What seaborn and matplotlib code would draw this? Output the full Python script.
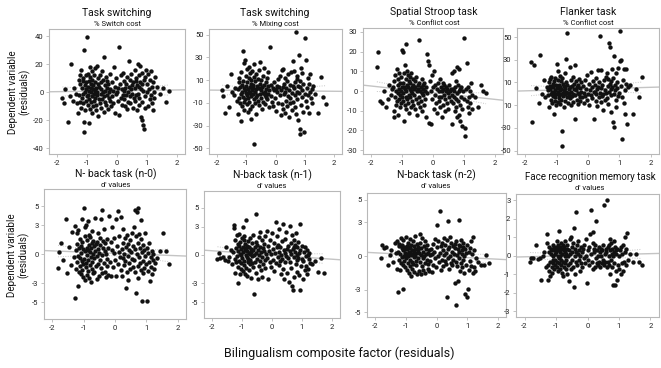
import numpy as np
import pandas as pd
import matplotlib
matplotlib.use("Agg")
import matplotlib.pyplot as plt
import seaborn as sns

# ==================================================
# DATA (same participants on x)
# ==================================================

bilingualism = [
    -1.82, -1.78, -1.72, -1.65, -1.58, -1.52, -1.47, -1.42, -1.37, -1.32,
    -1.29, -1.28, -1.26, -1.25, -1.23, -1.22, -1.21, -1.19, -1.18, -1.17,
    -1.15, -1.14, -1.13, -1.12, -1.11, -1.10, -1.09, -1.08, -1.07, -1.06,
    -1.05, -1.04, -1.03, -1.02, -1.01,
    -0.99, -0.98, -0.97, -0.96, -0.96, -0.95, -0.94, -0.93, -0.92, -0.91,
    -0.90, -0.89, -0.88, -0.87, -0.86, -0.86, -0.85, -0.84, -0.83, -0.82,
    -0.81, -0.80, -0.79, -0.78, -0.77, -0.76, -0.75, -0.74, -0.73, -0.72,
    -0.71, -0.70, -0.69, -0.68, -0.67, -0.66, -0.65, -0.64, -0.62, -0.61,
    -0.59, -0.58, -0.57, -0.55, -0.54, -0.53, -0.52, -0.50, -0.49, -0.48,
    -0.47, -0.45, -0.44, -0.43, -0.41, -0.40, -0.39, -0.37, -0.36, -0.35,
    -0.33, -0.32, -0.31, -0.29, -0.28, -0.27, -0.25, -0.24, -0.22, -0.21,
    -0.18, -0.16, -0.14, -0.12, -0.10, -0.08, -0.06, -0.04, -0.02, 0.00,
    0.02, 0.04, 0.06, 0.08, 0.10, 0.12, 0.14, 0.16, 0.18, 0.19,
    0.21, 0.22, 0.24, 0.25, 0.27, 0.28, 0.30, 0.31, 0.33, 0.34,
    0.36, 0.37, 0.39, 0.40, 0.42, 0.43, 0.45, 0.46, 0.48, 0.49,
    0.51, 0.53, 0.55, 0.57, 0.59,
    0.60, 0.61, 0.63, 0.64, 0.65, 0.67, 0.68, 0.69, 0.70, 0.72,
    0.73, 0.74, 0.75, 0.77, 0.78, 0.79, 0.80, 0.82, 0.83, 0.84,
    0.85, 0.87, 0.88, 0.89, 0.90, 0.92, 0.93, 0.95, 0.97, 0.99,
    1.01, 1.03, 1.05, 1.07, 1.09, 1.10, 1.12, 1.14, 1.16, 1.18,
    1.19, 1.21, 1.23, 1.25, 1.28,
    1.35, 1.45, 1.55, 1.63, 1.72,
]

switch_cost = [
    -4, -8, 2, -21, -3, 20, -6, 3, -1, -8,
    -15, 9, -2, 6, 12, -7, 16, -11, 3, -4, 8, -1, 10, -8, 30, -21, -28, 5, 0, -13, 12, 2, -6, 7, -3,
    39, -9, 4, 13, -2, -22, 8, 1, -5, 11, 18, -12, 3, -7, 6, 0, -3, 15, -15, 9,
    2, -10, 5, -1, 12, -6, 7, -4, 17, 1, -9, 3, -13, 19, 0, -2, 6, -17, 10, -5,
    4, -8, 12, -1, 7, -11, 2, 15, -5, 0, 9, -3, 25, -14, 5, -7, 1, 11, -9, 3,
    -2, 8, -12, 6, -4, 0, 13, -6, 2, -10,
    7, -3, 1, -8, 18, -15, 4, -1, 10, 0, -6, 3, 32, -16, 6, -4, 12, -9, 2, -2,
    14, -5, 1, 8, -10, 3, -2, 6, -12, 11, 0, -7, 4, 22, -3, 9, -8, 2, 13, -1, 5, -11, 7, -4, 16,
    3, -6, 10, -2, 8, -13, 5, 20, -1, 12, -9, 4, -4, 7, 19, -18, 2, -7, 14, -20,
    6, -23, 1, -26, 9, -3, 11, -11, 16, 0,
    6, -10, 13, 2, -5, 9, -2, 15, -8, 4, -13, 7, 0, -4, 11,
    4, -1, 3, -7, 1,
]

mixing_cost = [
    1, -4, -19, 5, -14, 15, 0, -3, 3, -8,
    -20, 2, 8, -6, 12, -10, 4, -2, 17, -26, 6, -13, 0, 36, -5, 9, -16, 3, 25, -9, 28, 1, -7, 14, -1,
    5, -11, 20, -3, 8, -18, 2, -6, 12, 0, 22, -9, 4, -15, 16, -1, 7, -24, 10, -4,
    18, 1, -13, 6, -2, 3, -46, 13, -7, 24, 0, -10, 9, -5, 2, 15, -20, 5, -3, 11,
    -8, 19, 3, -12, 7, -2, 26, -6, 1, 10, -15, 4, -1, 14, -9, 6, 21, -3, 0, -11,
    8, 2, -5, 12, -7, 5, -2, 17, -14, 1,
    39, -4, 6, -9, 3, -13, 1, 8, -6, 2, -17, 5, 0, 11, -10, 4, -3, 14, -21, 1,
    19, -11, 4, -15, 20, -2, 7, -19, 0, 12, -8, 3, -13, 9, -4, 15, -22, 1, -6, 6, -10, 17, -1, -16, 5,
    27, -9, 3, 18, -14, 8, -3, 52, -20, 11, 0, -7, 14, -25, 5, -1, 32, -33, 9, -37,
    4, -12, 21, -5, 1, 16, -18, 7, -36, -2,
    47, -8, 28, 3, -14, 12, -3, 7, -19, 0, 15, -6, 2, -10, 5,
    -2, -19, 13, -5, -11,
]

stroop_cost = [
    12, 20, -5, -6, 0, -8, -4, 3, -2, 1,
    2, -10, -13, 5, -3, 8, -7, 0, 11, -5, 3, -12, 6, -1, 9, -4, 1, -8, 4, -2, 7, -6, 0, 2, -3,
    21, -5, 4, 20, -1, 9, -15, 2, -7, 13, 1, -3, 6, -9, 24, 0, 3, -4, 10, -6,
    2, 8, -2, 5, -11, 1, 7, -3, 4, -8, 0, 9, -5, 2, -1, 6, -7, 3, -2, 1,
    5, -9, 2, -4, 7, 0, -12, 3, -6, 1, 4, -3, 26, -8, 0, 2, -5, 6, -1, -10,
    3, -2, 1, -7, 4, 0, -4, 2, -13, -1,
    19, 15, 13, -16, 5, -17, 0, 8, -4, 2, -9, 10, -2, 3, -6, 1, -11, 4, -3, 0,
    -5, 6, -8, 2, -3, -13, 0, 4, -7, 1, -2, 3, -10, -4, 0, 2, -6, 1, -9, -1, 3, -3, 0, -5, 1,
    -2, 9, -17, 1, -6, 10, -3, 0, -10, 2, -4, 5, -8, -1, 12, -13, 3, -5, 0, -12,
    11, -7, 1, -15, -3, 2, -9, -18, 0, -4,
    27, -19, -23, 1, -5, 14, -8, 2, -11, -3, 0, -6, 4, -2, -9,
    -3, -8, 3, 0, -1,
]

flanker_cost = [
    28, -25, 25, 5, -8, 34, 0, 12, -3, 6,
    3, -1, 10, -12, 4, 13, 7, -5, 0, 15, -8, 2, 9, -2, 6, -18, 1, 11, -6, 3, 14, -3, 8, 0, -10,
    26, 5, -7, 20, 2, 12, -4, 8, -1, 16, 3, -9, 6, 0, 11, -5, 4, 14, -33, -46,
    1, 9, -2, 7, -12, 3, 18, 0, 5, -6, 10, 2, 31, -3, 54, 8, -8, 1, 4, -1,
    24, -4, 6, 12, -10, 2, 7, -2, 15, 0, -7, 4, 9, -1, 25, -22, 3, 11, -5, 6,
    1, -9, 8, 0, 13, -3, 5, -6, 2, 10,
    -3, 7, -8, 1, 12, -2, 4, 17, -5, 0, 9, -10, 3, 19, -1, 6, -4, 11, -22, 2,
    2, 8, -6, 14, 0, 4, -11, 6, 21, -3, 10, 1, 51, -7, 5, 21, -2, 8, 0, -14, 12, 3, -5, 15, 1,
    18, -4, 7, 13, -9, 2, 45, 41, 9, -16, 4, 11, -1, 22, 6, -25, 14, 0, 33, -29,
    3, 8, -5, 18, -12, 5, 10, -2, 23, 1,
    55, 29, 30, 7, -3, -40, 12, -8, 22, 3, -18, 9, 22, -27, 6,
    8, -18, 4, -3, 15,
]

nback0_dprime = [
    -1.4, 0.2, 1.2, -0.6, 3.7, -2.0, 0.8, -1.1, 2.3, -0.3,
    2.9, -4.6, 0.4, -1.5, 2.2, -0.8, 1.1, -3.3, -0.2, 2.5, -1.9, 0.6, -1.2, 1.6, -0.4,
    0.9, -2.1, 0.1, 3.7, -1.6, 1.3, -0.7, -2.4, 0.5, -1.0,
    4.8, -0.5, 1.9, -2.7, 0.3, 2.8, -1.3, 3.0, -0.9, 0.7, -2.2, 1.5, -0.1, 3.5, -1.7, 0.4, -0.6, 2.0, -2.5, 1.0,
    -1.1, 0.2, 1.8, -2.9, 0.6, -0.3, 1.2, -1.5, 2.4, -0.8, 0.0, -2.0, 1.4, -0.4, 0.9, -1.8, 3.8, 0.3, -1.2, 1.1,
    -0.2, 1.3, -2.6, 0.5, 2.2, -1.0, 0.1, -2.3, 1.7, -0.6, 1.0, -1.4, 3.7, -0.1, 4.6, -2.0, 0.7, 1.4, -0.9, 2.6,
    -1.8, 0.3, 1.2, -2.4, 0.0, -0.5, 1.6, -1.2, 0.6, -2.2,
    4.0, -0.8, 1.3, -2.3, 0.4, 2.8, -1.3, 0.1, 1.7, -0.6, 3.7, -2.3, 0.9, 4.5, -1.0, 0.2, 1.9, -0.3, 3.9, -1.6,
    0.5, -2.3, 1.2, -0.4, 2.6, -1.1, 0.0, 1.7, -0.7, -3.5, 0.8, -1.9, 2.0, -0.2, 1.1, -2.7, 0.4, -0.9, 1.5, -1.5,
    0.2, 2.2, -0.5, 0.9, -1.3,
    2.8, -0.6, 4.6, -1.8, 0.5, 1.9, -4.0, 0.0, 4.4, -1.2, 1.2, -2.5, 4.8, -0.3, 2.1, -0.9, 0.7, 3.6, -1.6, 1.6,
    -4.9, 0.2, -0.7, 1.0, -2.0, 0.4, -1.4, 2.2, -0.2, -1.0,
    0.6, -4.9, -1.7, 0.1, -0.8, 1.2, -2.8, -0.3, -1.3, 0.3, -2.1, -0.6, 0.0, -1.5, -0.9,
    -0.4, 0.3, 2.2, 0.3, -1.0,
]

nback1_dprime = [
    -0.4, 0.2, -0.3, -0.2, -0.5, 0.8, -0.6, -0.2, 0.5, -1.0,
    0.3, 3.2, 2.9, -0.4, 1.6, -1.9, 0.7, -0.8, 2.1, -0.1, -3.0, 1.2, -1.3, 0.4, 2.2,
    -0.6, 1.0, -2.0, 0.1, 1.4, -0.9, 0.6, -1.5, 0.0, 1.8,
    -0.3, 3.0, 0.9, -1.7, 0.3, 1.6, -0.6, 2.0, -1.1, 0.5, -2.0, 1.2, 0.0, 3.7, -1.4, 0.7, -0.2, 1.0, -2.2, 0.4,
    -0.8, 1.5, -0.4, 0.2, -1.6, 0.9, 0.1, -1.0, 1.8, -0.5, 0.6, -2.4, 0.3, -0.9, 1.3, -0.1, 0.5, -1.3, 2.1, 0.0,
    -4.1, 0.8, -0.7, 1.4, -1.9, 0.2, 4.4, -0.4, 1.1, -2.6, 0.5, 1.9, -1.2, 0.0, 2.4, -0.6, 0.9, -1.6, 0.3, 1.6,
    -2.3, -0.2, 0.7, -1.0, 0.4, 1.2, -0.5, 2.0, -1.4, 0.1,
    2.6, -0.3, 1.0, -2.6, 0.4, -0.8, 1.6, 0.1, -1.3, 2.3, 0.6, -0.5, 1.3, -1.7, 0.2, 3.5, -0.9, 0.8, 2.0, -0.2,
    1.1, -1.1, 0.3, 2.8, -0.6, 0.9, -2.0, 0.0, 1.5, -0.4, 3.3, -1.5, 0.5, -2.6, 0.2, 1.7, -0.8, 2.4, -0.1, 0.6,
    -1.9, 1.0, -0.3, -2.9, 0.4,
    3.1, -0.7, 1.3, -1.4, 0.1, 2.1, -3.3, 0.6, -3.7, 1.6, -0.2, 0.8, -2.3, 0.3, 1.1, -1.0, 2.3, -0.5, 0.0, -1.8,
    0.9, -0.3, 1.4, -2.1, 0.2, 3.3, -3.7, 0.5, -1.2, -0.4,
    1.0, -0.6, -2.6, 0.3, -1.6, 0.8, -0.1, -1.2, 0.5, -2.0, 0.0, -1.5, -0.4, 0.2, -0.9,
    -1.0, -0.6, -1.8, -0.3, -1.9,
]

nback2_dprime = [
    -0.2, 1.0, 0.7, 0.8, -0.8, 0.1, 0.5, -0.5, 1.2, 0.3,
    1.3, -1.1, 0.4, -3.2, 0.9, -0.3, 1.1, -1.2, 0.2, 1.6, -0.6, 0.7, -0.1, 1.0, -2.9,
    0.5, -0.8, 1.4, 0.0, -0.4, 0.8, 0.3, -1.0, 0.6, 0.1,
    1.7, -0.2, 0.6, -1.2, 0.9, 0.2, -0.6, 1.2, 0.0, -1.5, 0.4, 0.8, -0.9, 0.3, 1.5, -0.3, 0.7, -1.8, 0.1, 1.0,
    -0.5, 0.5, -1.1, 0.2, 1.3, -0.7, 0.4, -0.1, 0.9, -1.4, 0.6, 0.0, 1.8, -0.8, 0.3, -0.4, 1.1, -1.6, 0.5, -0.2,
    0.8, -1.3, 0.3, 2.0, -0.5, 1.2, -1.6, 0.1, 0.7, -0.9, 1.6, -0.2, 0.4, -1.2, 0.9, 0.0, -0.6, 1.3, -1.5, 0.2,
    0.6, -0.3, 1.0, -1.1, 0.3, -0.7, 0.5, -1.3, 0.1, -0.4,
    0.6, -1.4, 0.2, 1.1, -0.8, 0.4, 1.5, -0.2, -1.0, 0.8, 2.8, 0.0, 1.3, -0.5, 4.0, 0.3, -1.2, 0.9, -0.3, 1.2,
    0.5, -0.9, 1.6, 0.1, -0.4, 1.0, -0.7, 0.3, 1.4, -3.6, 0.6, 3.1, -0.2, 0.8, -1.1, 1.7, 0.0, -0.6, 1.2, 0.4,
    -0.8, 0.9, -0.3, 0.2, 1.1,
    -2.4, 0.7, -0.5, -4.3, 1.3, 0.1, -0.9, 0.6, -2.2, 1.0, -0.2, 3.2, 0.4, -1.3, 0.9, -0.6, 1.4, 0.2, -1.0, 0.5,
    1.2, -0.3, 0.8, -1.5, 0.0, -3.4, 0.6, -0.8, 0.3, 1.0,
    -3.6, -2.9, 0.4, -1.2, 0.7, -0.4, 1.3, -0.9, 0.2, -1.5, 1.7, 0.5, -1.0, -1.3, -0.2,
    -0.5, -0.8, -0.8, 0.1, -0.6,
]

face_memory_dprime = [
    -0.35, -0.1, -0.1, 0.6, -0.15, -0.1, -1.3, 0.0, 0.2, -0.6,
    1.2, 0.7, -0.5, -1.3, 0.2, -0.8, 0.5, -0.3, -1.1, 0.1, 0.4, -0.6, 0.3, -0.9, -0.2,
    0.6, -0.4, 0.0, -0.7, 0.3, 0.5, -0.2, 0.1, -0.5, 0.4,
    0.2, -0.6, 0.8, -0.3, 0.5, 0.0, -0.8, 0.6, 1.35, -0.4, 0.3, -0.1, 0.5, -0.7, 0.2, 0.0, -0.5, 0.7, -0.2, 0.4,
    -0.9, 0.1, 0.6, -0.3, -1.1, 0.3, -0.6, 0.5, 0.0, -0.4, 0.2, 0.8, -0.7, 0.1, -0.2, 0.4, -1.0, 0.6, -0.5, 0.0,
    -1.35, 0.3, 0.9, -0.4, 0.1, 1.0, -0.7, 0.5, -0.2, 0.2, -0.6, 0.7, -1.7, 1.5, 0.0, 0.4, -1.0, 0.2, -0.3, 2.35,
    0.6, -0.5, 0.1, 0.8, -0.2, 0.3, -0.8, 0.0, 0.5, -0.4,
    0.2, -0.6, 0.4, -0.1, 0.6, -0.4, 0.0, 0.9, -1.45, 0.3, -0.2, 0.5, -0.5, 1.2, 0.1, 2.5, -0.3, 1.3, 0.7, -0.7,
    0.4, 0.2, -0.6, 0.6, -0.1, 1.9, -0.4, 0.3, 0.0, -0.5, 0.5, -0.3, 0.2, -0.6, 0.4, 0.0, -0.4, 0.3, -0.2, 0.6,
    2.75, -0.5, 0.1, -0.3, 0.4,
    0.2, -0.6, 3.05, 0.5, -0.3, 0.0, 0.6, -0.5, 0.9, -0.95, 0.3, -0.2, 0.7, 0.1, -0.6, 0.4, -1.55, 0.0, 0.8, -0.4,
    0.2, -1.55, 0.5, -0.8, 0.1, 0.3, -1.3, 0.4, -0.5, 0.0,
    -0.7, 0.3, -1.0, 0.5, -0.4, 0.1, -0.8, 0.6, -0.3, 1.05, 0.2, -0.5, 0.4, 1.25, -0.2,
    0.1, -0.35, 0.1, -0.35, -0.5,
]

titles = ["Task switching", "Task switching", "Spatial Stroop task", "Flanker task",
          "N- back task (n-0)", "N-back task (n-1)", "N-back task (n-2)",
          "Face recognition memory task"]
subtitles = ["% Switch cost", "% Mixing cost", "% Conflict cost", "% Conflict cost",
             "d' values", "d' values", "d' values", "d' values"]
series = [switch_cost, mixing_cost, stroop_cost, flanker_cost,
          nback0_dprime, nback1_dprime, nback2_dprime, face_memory_dprime]

y_ticks = [[-40, -20, 0, 20, 40],
           [-50, -30, -10, 10, 30, 50],
           [-30, -20, -10, 0, 10, 20, 30],
           [-50, -30, -10, 10, 30, 50],
           [-5, -3, 0, 3, 5],
           [-5, -3, 0, 3, 5],
           [-5, -3, 0, 3, 5],
           [-3, -2, -1, 0, 1, 2, 3]]
# the flanker panel prints "10" for -10 in the original
y_ticklabels = [None, None, None, ["-50", "-30", "10", "10", "30", "50"],
                None, None, None, None]
x_ticks = [-2, -1, 0, 1, 2]

# ==================================================
# LAYOUT (pixel boxes: left, top, right, bottom)
# ==================================================

W, H = 661, 368
boxes = [(49, 29, 185, 154), (209, 29, 342, 154), (363, 28, 503, 154), (517, 28, 659, 154),
         (44, 189, 186, 319), (204, 191, 340, 318), (367, 193, 506, 317), (516, 194, 659, 317)]
y_limits = [(-44, 45), (-55, 55), (-32, 32), (-53, 58),
            (-6.75, 6.8), (-6.7, 6.8), (-5.4, 5.6), (-3.3, 3.35)]
title_y = [13, 13, 12, 12, 174, 175, 175, 177]
title_x = [117, 275, 434, 588, 116, 272, 436, 590]
title_size = [7.5, 7.5, 7.5, 7.5, 7.5, 7.5, 7.5, 7]

sns.set_style("white")
plt.rcParams["font.family"] = ["Roboto", "DejaVu Sans"]

fig = plt.figure(figsize=(W / 100, H / 100), dpi=100)

frame_col = "#b8b8b8"

for i, (l, t, r, b) in enumerate(boxes):
    ax = fig.add_axes([l / W, 1 - b / H, (r - l) / W, (b - t) / H])

    df = pd.DataFrame({"x": bilingualism, "y": series[i]})
    assert len(df) == 200

    sns.scatterplot(data=df, x="x", y="y", ax=ax, color="#111111",
                    s=10, linewidth=0, legend=False, zorder=3)

    # linear fit with 95% confidence band drawn as dotted curves
    xv = df["x"].to_numpy(float)
    yv = df["y"].to_numpy(float)
    b1, b0 = np.polyfit(xv, yv, 1)
    resid = yv - (b0 + b1 * xv)
    s = np.sqrt((resid ** 2).sum() / (len(xv) - 2))
    sxx = ((xv - xv.mean()) ** 2).sum()
    grid = np.linspace(-2.3, 2.3, 50)
    ax.plot(grid, b0 + b1 * grid, color="#c4c4c4", lw=1.0, zorder=2)
    band = np.linspace(xv.min(), xv.max(), 50)
    half = 1.97 * s * np.sqrt(1 / len(xv) + (band - xv.mean()) ** 2 / sxx)
    for sign in (-1, 1):
        ax.plot(band, b0 + b1 * band + sign * half, color="#c8c8c8",
                lw=0.7, ls=(0, (1, 1.5)), zorder=2)

    ax.set_xlim(-2.27, 2.27)
    ax.set_ylim(*y_limits[i])
    ax.set_xticks(x_ticks)
    ax.set_xticklabels([str(v) for v in x_ticks])
    ax.set_yticks(y_ticks[i])
    if y_ticklabels[i] is not None:
        ax.set_yticklabels(y_ticklabels[i])
    else:
        ax.set_yticklabels([str(v) for v in y_ticks[i]])
    ax.set_xlabel("")
    ax.set_ylabel("")
    ax.tick_params(axis="both", which="both", length=2.5, width=0.6,
                   color=frame_col, labelsize=5.5, labelcolor="#222222", pad=1.5,
                   bottom=True, left=True)
    for sp in ax.spines.values():
        sp.set_color(frame_col)
        sp.set_linewidth(0.8)

    fig.text(title_x[i] / W, 1 - title_y[i] / H, titles[i], ha="center", va="center",
             fontsize=title_size[i], color="#111111")
    fig.text(title_x[i] / W, 1 - (title_y[i] + 11) / H, subtitles[i], ha="center",
             va="center", fontsize=5.5, color="#111111")

fig.text(19 / W, 1 - 92 / H, "Dependent variable\n(residuals)", rotation=90,
         ha="center", va="center", fontsize=7, color="#111111", linespacing=1.1)
fig.text(18 / W, 1 - 255 / H, "Dependent variable\n(residuals)", rotation=90,
         ha="center", va="center", fontsize=7, color="#111111", linespacing=1.1)
fig.text(339 / W, 1 - 353 / H, "Bilingualism composite factor (residuals)",
         ha="center", va="center", fontsize=9, color="#111111")

fig.savefig("out.png", dpi=100)
